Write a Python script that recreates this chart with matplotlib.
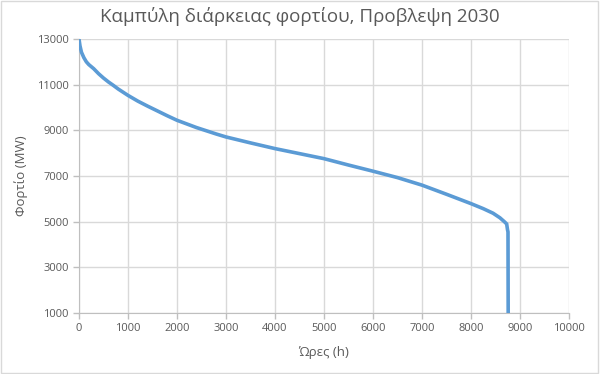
import matplotlib.pyplot as plt
from matplotlib.patches import Rectangle

# φορτίο ταξινομημένο κατά φθίνουσα σειρά (τιμές διαβασμένες από το γράφημα)
hours = [0, 20, 50, 100, 150, 200, 300, 400, 500, 600, 700, 800, 900, 1000,
         1200, 1400, 1600, 1800, 2000, 2200, 2400, 2600, 2800, 3000, 3500,
         4000, 4500, 5000, 5500, 6000, 6500, 7000, 7500, 8000, 8250, 8450,
         8590, 8680, 8728, 8745, 8755, 8760]
load = [13000, 12700, 12420, 12180, 12000, 11880, 11700, 11480, 11290, 11120,
        10970, 10810, 10670, 10530, 10280, 10060, 9850, 9640, 9440, 9280,
        9120, 8980, 8840, 8710, 8450, 8200, 7980, 7760, 7480, 7210, 6930,
        6600, 6200, 5790, 5570, 5370, 5170, 5000, 4900, 4650, 4550, 0]

xticks = list(range(0, 10001, 1000))
yticks = list(range(1000, 13001, 2000))

plt.rcParams['font.family'] = ['Open Sans', 'DejaVu Sans']

fig = plt.figure(figsize=(6, 3.74), dpi=100)
ax = fig.add_axes([79/600, 1-313/374, 490/600, 274/374])

ax.plot(hours, load, color='#5B9BD5', lw=2.6, solid_joinstyle='miter', zorder=3, clip_on=True)

ax.set_xlim(0, 10000)
ax.set_ylim(1000, 13000)
ax.set_xticks(xticks)
ax.set_yticks(yticks)
ax.tick_params(colors='#BFBFBF', labelcolor='#595959', labelsize=8, length=4, width=1)
ax.grid(color='#D9D9D9', lw=1)
ax.set_axisbelow(True)
for s in ['top', 'right']:
    ax.spines[s].set_visible(False)
for s in ['left', 'bottom']:
    ax.spines[s].set_color('#BFBFBF')

ax.set_xlabel('Ώρες (h)', color='#595959', fontsize=9.5, labelpad=8)
ax.set_ylabel('Φορτίο (MW)', color='#595959', fontsize=9.5, labelpad=6)
fig.text(0.5, 0.955, 'Καμπύλη διάρκειας φορτίου, Προβλεψη 2030', ha='center', va='center',
         color='#595959', fontsize=13.5)

fig.patches.append(Rectangle((0.002, 0.003), 0.995, 0.994, transform=fig.transFigure,
                             fill=False, edgecolor='#D9D9D9', lw=1))

fig.savefig('out.png', dpi=100)
